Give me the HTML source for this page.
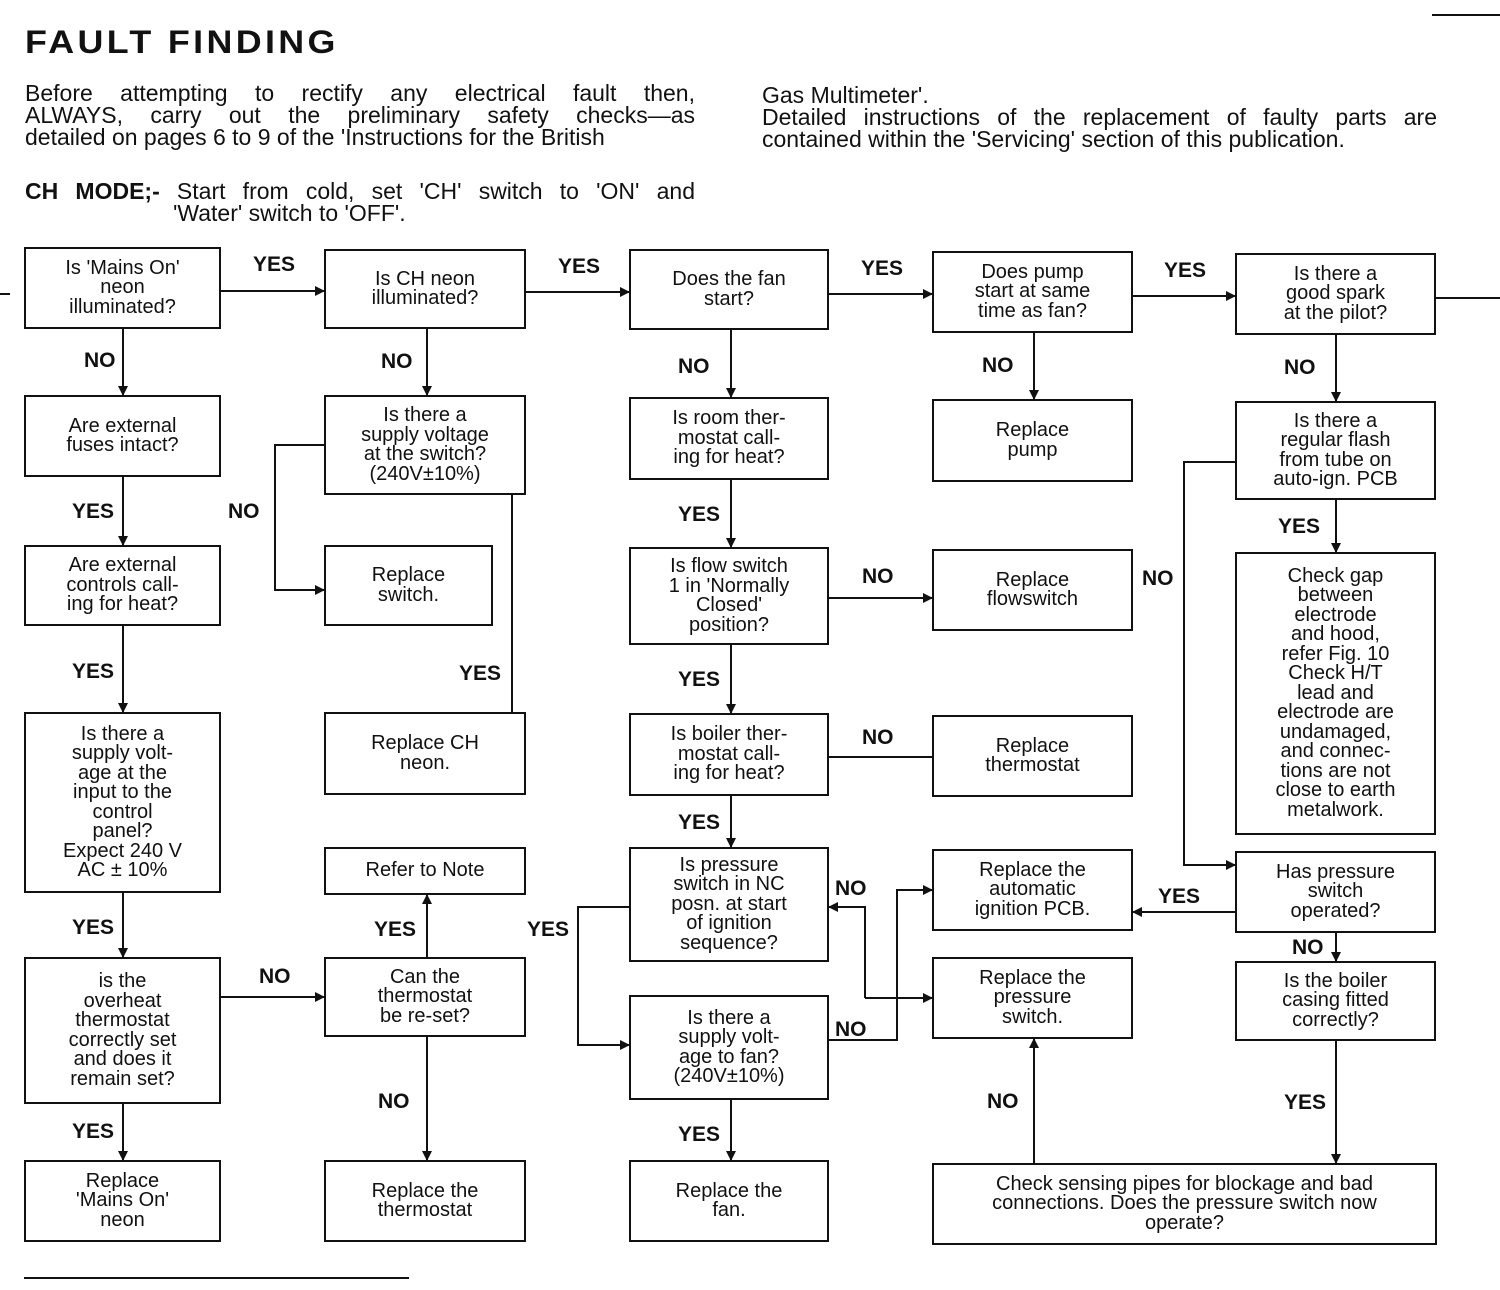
<!DOCTYPE html>
<html><head><meta charset="utf-8"><style>
body{margin:0;width:1500px;height:1290px;background:#fff;position:relative;overflow:hidden;font-family:"Liberation Sans",Arial,sans-serif;color:#111}
.b{position:absolute;border:2px solid #111;box-sizing:border-box;display:flex;align-items:center;justify-content:center;text-align:center;font-size:20px;line-height:19.5px;padding:2px}
.l{position:absolute;font-size:21px;font-weight:bold;color:#111}
.t{position:absolute;font-size:23px;line-height:22px}
.j{text-align:justify;text-align-last:justify;white-space:nowrap;display:block}
svg{position:absolute;left:0;top:0}
</style></head><body>
<div style="position:absolute;left:25px;top:24px;font-size:32px;font-weight:900;letter-spacing:3px;transform:scaleX(1.12);transform-origin:left">FAULT FINDING</div>
<div class="t" style="left:25px;top:82px;width:670px"><span class="j">Before attempting to rectify any electrical fault then,</span><span class="j">ALWAYS, carry out the preliminary safety checks—as</span><span style="display:block">detailed on pages 6 to 9 of the 'Instructions for the British</span></div>
<div class="t" style="left:762px;top:84px;width:675px"><span style="display:block">Gas Multimeter'.</span><span class="j">Detailed instructions of the replacement of faulty parts are</span><span style="display:block">contained within the 'Servicing' section of this publication.</span></div>
<div class="t" style="left:25px;top:180px;width:670px"><span class="j"><b>CH MODE;-</b> Start from cold, set 'CH' switch to 'ON' and</span><span style="display:block;padding-left:148px">'Water' switch to 'OFF'.</span></div>
<div style="position:absolute;left:1432px;top:14px;width:68px;height:2px;background:#111"></div>
<div style="position:absolute;left:24px;top:1277px;width:385px;height:2px;background:#111"></div>

<div class="b" style="left:24px;top:247px;width:197px;height:82px">Is 'Mains On'<br>neon<br>illuminated?</div>
<div class="b" style="left:24px;top:395px;width:197px;height:82px">Are external<br>fuses intact?</div>
<div class="b" style="left:24px;top:545px;width:197px;height:81px">Are external<br>controls call-<br>ing for heat?</div>
<div class="b" style="left:24px;top:712px;width:197px;height:181px">Is there a<br>supply volt-<br>age at the<br>input to the<br>control<br>panel?<br>Expect 240 V<br>AC ± 10%</div>
<div class="b" style="left:24px;top:957px;width:197px;height:147px">is the<br>overheat<br>thermostat<br>correctly set<br>and does it<br>remain set?</div>
<div class="b" style="left:24px;top:1160px;width:197px;height:82px">Replace<br>'Mains On'<br>neon</div>

<div class="b" style="left:324px;top:249px;width:202px;height:80px">Is CH neon<br>illuminated?</div>
<div class="b" style="left:324px;top:395px;width:202px;height:100px">Is there a<br>supply voltage<br>at the switch?<br>(240V±10%)</div>
<div class="b" style="left:324px;top:545px;width:169px;height:81px">Replace<br>switch.</div>
<div class="b" style="left:324px;top:712px;width:202px;height:83px">Replace CH<br>neon.</div>
<div class="b" style="left:324px;top:847px;width:202px;height:48px">Refer to Note</div>
<div class="b" style="left:324px;top:957px;width:202px;height:80px">Can the<br>thermostat<br>be re-set?</div>
<div class="b" style="left:324px;top:1160px;width:202px;height:82px">Replace the<br>thermostat</div>

<div class="b" style="left:629px;top:249px;width:200px;height:81px">Does the fan<br>start?</div>
<div class="b" style="left:629px;top:397px;width:200px;height:83px">Is room ther-<br>mostat call-<br>ing for heat?</div>
<div class="b" style="left:629px;top:547px;width:200px;height:98px">Is flow switch<br>1 in 'Normally<br>Closed'<br>position?</div>
<div class="b" style="left:629px;top:713px;width:200px;height:83px">Is boiler ther-<br>mostat call-<br>ing for heat?</div>
<div class="b" style="left:629px;top:847px;width:200px;height:115px">Is pressure<br>switch in NC<br>posn. at start<br>of ignition<br>sequence?</div>
<div class="b" style="left:629px;top:995px;width:200px;height:105px">Is there a<br>supply volt-<br>age to fan?<br>(240V±10%)</div>
<div class="b" style="left:629px;top:1160px;width:200px;height:82px">Replace the<br>fan.</div>

<div class="b" style="left:932px;top:251px;width:201px;height:82px">Does pump<br>start at same<br>time as fan?</div>
<div class="b" style="left:932px;top:399px;width:201px;height:83px">Replace<br>pump</div>
<div class="b" style="left:932px;top:549px;width:201px;height:82px">Replace<br>flowswitch</div>
<div class="b" style="left:932px;top:715px;width:201px;height:82px">Replace<br>thermostat</div>
<div class="b" style="left:932px;top:849px;width:201px;height:82px">Replace the<br>automatic<br>ignition PCB.</div>
<div class="b" style="left:932px;top:957px;width:201px;height:82px">Replace the<br>pressure<br>switch.</div>
<div class="b" style="left:932px;top:1163px;width:505px;height:82px">Check sensing pipes for blockage and bad<br>connections. Does the pressure switch now<br>operate?</div>

<div class="b" style="left:1235px;top:253px;width:201px;height:82px">Is there a<br>good spark<br>at the pilot?</div>
<div class="b" style="left:1235px;top:401px;width:201px;height:99px">Is there a<br>regular flash<br>from tube on<br>auto-ign. PCB</div>
<div class="b" style="left:1235px;top:552px;width:201px;height:283px">Check gap<br>between<br>electrode<br>and hood,<br>refer Fig. 10<br>Check H/T<br>lead and<br>electrode are<br>undamaged,<br>and connec-<br>tions are not<br>close to earth<br>metalwork.</div>
<div class="b" style="left:1235px;top:851px;width:201px;height:82px">Has pressure<br>switch<br>operated?</div>
<div class="b" style="left:1235px;top:961px;width:201px;height:80px">Is the boiler<br>casing fitted<br>correctly?</div>

<svg width="1500" height="1290">
<defs><marker id="a" markerWidth="10" markerHeight="10" refX="9" refY="5" orient="auto" markerUnits="userSpaceOnUse"><path d="M0,0 L10,5 L0,10 z" fill="#111"/></marker></defs>
<g stroke="#111" stroke-width="2" fill="none" marker-end="url(#a)">
<path d="M221 291H324"/><path d="M526 292H629"/><path d="M829 294H932"/><path d="M1133 296H1235"/>
<path d="M123 329V395"/><path d="M123 477V545"/><path d="M123 626V712"/><path d="M123 893V957"/><path d="M123 1104V1160"/>
<path d="M427 329V395"/><path d="M324 445H275V590H324"/><path d="M221 997H324"/><path d="M427 957V895"/><path d="M427 1037V1160"/>
<path d="M731 330V397"/><path d="M731 480V547"/><path d="M731 645V713"/><path d="M731 796V847"/><path d="M731 1100V1160"/>
<path d="M829 598H932"/><path d="M629 907H578V1045H629"/><path d="M865 998V907H829"/><path d="M865 998H932"/><path d="M829 1040H897V890H932"/>
<path d="M1034 333V399"/><path d="M1034 1163V1039"/>
<path d="M1336 335V401"/><path d="M1336 500V552"/><path d="M1235 462H1184V865H1235"/><path d="M1235 912H1133"/><path d="M1336 933V961"/><path d="M1336 1041V1163"/>
</g>
<g stroke="#111" stroke-width="2" fill="none">
<path d="M512 495V712"/><path d="M829 757H932"/><path d="M1436 298H1500"/><path d="M0 294H10"/>
</g>
</svg>
<div class="l" style="left:253px;top:253px">YES</div>
<div class="l" style="left:558px;top:255px">YES</div>
<div class="l" style="left:861px;top:257px">YES</div>
<div class="l" style="left:1164px;top:259px">YES</div>
<div class="l" style="left:84px;top:349px">NO</div>
<div class="l" style="left:72px;top:500px">YES</div>
<div class="l" style="left:72px;top:660px">YES</div>
<div class="l" style="left:72px;top:916px">YES</div>
<div class="l" style="left:72px;top:1120px">YES</div>
<div class="l" style="left:381px;top:350px">NO</div>
<div class="l" style="left:228px;top:500px">NO</div>
<div class="l" style="left:459px;top:662px">YES</div>
<div class="l" style="left:374px;top:918px">YES</div>
<div class="l" style="left:259px;top:965px">NO</div>
<div class="l" style="left:378px;top:1090px">NO</div>
<div class="l" style="left:527px;top:918px">YES</div>
<div class="l" style="left:678px;top:355px">NO</div>
<div class="l" style="left:678px;top:503px">YES</div>
<div class="l" style="left:678px;top:668px">YES</div>
<div class="l" style="left:678px;top:811px">YES</div>
<div class="l" style="left:678px;top:1123px">YES</div>
<div class="l" style="left:862px;top:565px">NO</div>
<div class="l" style="left:862px;top:726px">NO</div>
<div class="l" style="left:835px;top:877px">NO</div>
<div class="l" style="left:835px;top:1018px">NO</div>
<div class="l" style="left:982px;top:354px">NO</div>
<div class="l" style="left:987px;top:1090px">NO</div>
<div class="l" style="left:1284px;top:356px">NO</div>
<div class="l" style="left:1278px;top:515px">YES</div>
<div class="l" style="left:1142px;top:567px">NO</div>
<div class="l" style="left:1158px;top:885px">YES</div>
<div class="l" style="left:1292px;top:936px">NO</div>
<div class="l" style="left:1284px;top:1091px">YES</div>
</body></html>
